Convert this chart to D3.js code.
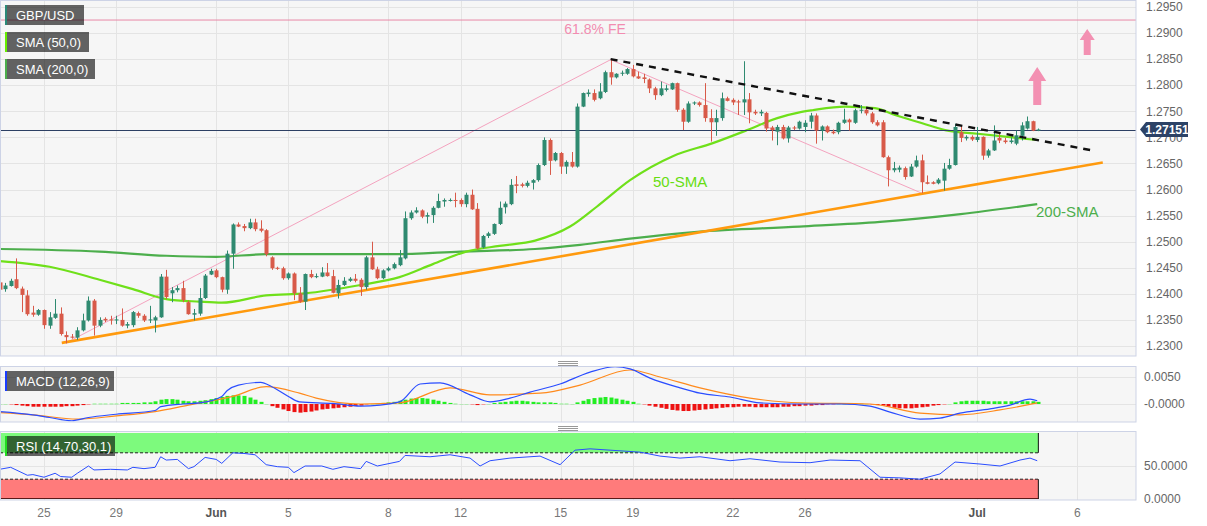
<!DOCTYPE html>
<html><head><meta charset="utf-8">
<script src="https://cdn.jsdelivr.net/npm/d3@7"></script>
<style>body{margin:0;background:#fff;font-family:"Liberation Sans",Arial,sans-serif}</style>
</head><body><svg id="c" width="1207" height="526"></svg>
<script>
// ---- DATA ----
const candles = [
[1.2422,1.2425,1.2405,1.2408],[1.2409,1.2421,1.2404,1.2416],[1.2415,1.2429,1.2414,1.2425],[1.2428,1.2468,1.2409,1.2411],
[1.2410,1.2414,1.2365,1.2398],[1.2397,1.2407,1.2358,1.2361],[1.2364,1.2377,1.2356,1.2360],[1.2360,1.2371,1.2358,1.2369],
[1.2369,1.2370,1.2333,1.2340],[1.2339,1.2365,1.2333,1.2355],[1.2354,1.2390,1.2352,1.2362],[1.2362,1.2374,1.2320,1.2323],
[1.2321,1.2328,1.2305,1.2317],[1.2318,1.2323,1.2314,1.2316],[1.2316,1.2336,1.2312,1.2330],[1.2330,1.2362,1.2328,1.2349],
[1.2349,1.2395,1.2347,1.2387],[1.2387,1.2390,1.2320,1.2339],[1.2339,1.2355,1.2336,1.2350],[1.2352,1.2355,1.2346,1.2349],
[1.2351,1.2358,1.2341,1.2349],[1.2349,1.2358,1.2342,1.2351],[1.2350,1.2372,1.2337,1.2339],[1.2339,1.2346,1.2334,1.2342],
[1.2340,1.2367,1.2336,1.2365],[1.2363,1.2366,1.2354,1.2358],[1.2358,1.2361,1.2346,1.2349],[1.2350,1.2377,1.2344,1.2351],
[1.2349,1.2358,1.2326,1.2355],[1.2355,1.2438,1.2354,1.2433],[1.2433,1.2446,1.2390,1.2394],[1.2401,1.2413,1.2384,1.2407],
[1.2407,1.2416,1.2403,1.2411],[1.2411,1.2425,1.2384,1.2388],[1.2384,1.2387,1.2360,1.2361],[1.2360,1.2371,1.2349,1.2363],
[1.2362,1.2411,1.2358,1.2392],[1.2392,1.2438,1.2390,1.2435],[1.2437,1.2448,1.2436,1.2444],[1.2445,1.2448,1.2430,1.2432],
[1.2432,1.2433,1.2403,1.2408],[1.2408,1.2483,1.2400,1.2477],[1.2477,1.2535,1.2448,1.2533],[1.2533,1.2537,1.2528,1.2529],
[1.2530,1.2534,1.2520,1.2526],[1.2526,1.2544,1.2524,1.2537],[1.2537,1.2544,1.2520,1.2524],[1.2525,1.2541,1.2518,1.2521],
[1.2522,1.2524,1.2472,1.2476],[1.2470,1.2472,1.2446,1.2449],[1.2450,1.2452,1.2446,1.2448],[1.2449,1.2452,1.2427,1.2430],
[1.2430,1.2441,1.2427,1.2439],[1.2439,1.2441,1.2388,1.2401],[1.2401,1.2413,1.2383,1.2385],[1.2385,1.2439,1.2369,1.2438],
[1.2438,1.2446,1.2430,1.2432],[1.2432,1.2439,1.2430,1.2434],[1.2433,1.2451,1.2432,1.2441],[1.2441,1.2459,1.2433,1.2434],
[1.2434,1.2446,1.2401,1.2402],[1.2401,1.2427,1.2391,1.2417],[1.2417,1.2432,1.2415,1.2425],[1.2425,1.2432,1.2423,1.2429],
[1.2429,1.2438,1.2422,1.2425],[1.2427,1.2430,1.2396,1.2413],[1.2413,1.2473,1.2408,1.2470],[1.2470,1.2500,1.2446,1.2447],
[1.2447,1.2452,1.2428,1.2430],[1.2430,1.2447,1.2428,1.2445],[1.2445,1.2452,1.2443,1.2449],[1.2449,1.2460,1.2447,1.2457],
[1.2455,1.2484,1.2453,1.2470],[1.2468,1.2558,1.2466,1.2545],[1.2545,1.2560,1.2542,1.2556],[1.2556,1.2566,1.2554,1.2560],
[1.2560,1.2562,1.2545,1.2548],[1.2548,1.2556,1.2535,1.2551],[1.2551,1.2568,1.2536,1.2565],[1.2565,1.2592,1.2564,1.2578],
[1.2577,1.2583,1.2567,1.2580],[1.2579,1.2583,1.2577,1.2580],[1.2580,1.2594,1.2566,1.2578],[1.2580,1.2583,1.2567,1.2572],
[1.2572,1.2594,1.2566,1.2590],[1.2590,1.2600,1.2561,1.2562],[1.2563,1.2574,1.2485,1.2487],[1.2489,1.2513,1.2487,1.2511],
[1.2511,1.2519,1.2507,1.2516],[1.2515,1.2535,1.2513,1.2534],[1.2534,1.2577,1.2532,1.2565],[1.2566,1.2577,1.2554,1.2573],
[1.2572,1.2620,1.2570,1.2609],[1.2610,1.2626,1.2593,1.2607],[1.2610,1.2613,1.2604,1.2607],[1.2607,1.2617,1.2604,1.2613],
[1.2613,1.2620,1.2600,1.2618],[1.2618,1.2650,1.2615,1.2647],[1.2647,1.2700,1.2645,1.2695],[1.2695,1.2698,1.2628,1.2655],
[1.2656,1.2672,1.2654,1.2670],[1.2670,1.2672,1.2630,1.2644],[1.2644,1.2656,1.2630,1.2653],[1.2653,1.2672,1.2642,1.2644],
[1.2644,1.2765,1.2642,1.2759],[1.2759,1.2786,1.2758,1.2785],[1.2783,1.2792,1.2778,1.2786],[1.2785,1.2792,1.2769,1.2772],
[1.2775,1.2804,1.2773,1.2788],[1.2787,1.2828,1.2785,1.2825],[1.2825,1.2849,1.2801,1.2815],[1.2815,1.2823,1.2813,1.2822],
[1.2822,1.2828,1.2818,1.2824],[1.2822,1.2833,1.2820,1.2831],[1.2831,1.2839,1.2815,1.2817],[1.2817,1.2826,1.2812,1.2813],
[1.2815,1.2822,1.2804,1.2812],[1.2811,1.2813,1.2785,1.2794],[1.2794,1.2797,1.2772,1.2781],[1.2781,1.2807,1.2779,1.2794],
[1.2791,1.2801,1.2788,1.2794],[1.2792,1.2805,1.2791,1.2804],[1.2804,1.2805,1.2749,1.2753],[1.2753,1.2756,1.2714,1.2730],
[1.2730,1.2769,1.2728,1.2765],[1.2765,1.2769,1.2762,1.2767],[1.2767,1.2769,1.2759,1.2762],[1.2762,1.2804,1.2730,1.2737],
[1.2737,1.2754,1.2692,1.2729],[1.2729,1.2753,1.2703,1.2737],[1.2737,1.2786,1.2732,1.2775],[1.2775,1.2778,1.2769,1.2770],
[1.2772,1.2775,1.2762,1.2767],[1.2769,1.2772,1.2743,1.2767],[1.2767,1.2846,1.2743,1.2773],[1.2773,1.2785,1.2727,1.2748],
[1.2749,1.2753,1.2743,1.2746],[1.2746,1.2753,1.2741,1.2749],[1.2747,1.2749,1.2711,1.2717],[1.2719,1.2722,1.2694,1.2714],
[1.2711,1.2724,1.2685,1.2720],[1.2720,1.2724,1.2696,1.2698],[1.2698,1.2722,1.2690,1.2719],[1.2719,1.2722,1.2714,1.2717],
[1.2717,1.2732,1.2715,1.2730],[1.2720,1.2733,1.2710,1.2728],[1.2730,1.2747,1.2717,1.2742],[1.2742,1.2746,1.2688,1.2713],
[1.2713,1.2723,1.2694,1.2721],[1.2721,1.2723,1.2708,1.2710],[1.2711,1.2715,1.2706,1.2708],[1.2710,1.2730,1.2706,1.2728],
[1.2728,1.2755,1.2726,1.2734],[1.2734,1.2736,1.2713,1.2729],[1.2728,1.2755,1.2726,1.2752],[1.2751,1.2762,1.2746,1.2753],
[1.2753,1.2758,1.2742,1.2746],[1.2746,1.2749,1.2726,1.2729],[1.2729,1.2733,1.2721,1.2723],[1.2729,1.2733,1.2661,1.2662],
[1.2662,1.2665,1.2606,1.2637],[1.2637,1.2653,1.2633,1.2641],[1.2638,1.2646,1.2633,1.2642],[1.2641,1.2644,1.2619,1.2624],
[1.2625,1.2649,1.2624,1.2644],[1.2644,1.2665,1.2642,1.2656],[1.2656,1.2667,1.2593,1.2614],[1.2614,1.2627,1.2610,1.2611],
[1.2614,1.2616,1.2610,1.2611],[1.2612,1.2622,1.2610,1.2619],[1.2617,1.2651,1.2598,1.2640],[1.2640,1.2659,1.2638,1.2647],
[1.2647,1.2726,1.2646,1.2720],[1.2710,1.2723,1.2691,1.2699],[1.2698,1.2704,1.2694,1.2701],[1.2701,1.2704,1.2693,1.2696],
[1.2695,1.2720,1.2691,1.2701],[1.2701,1.2702,1.2657,1.2665],[1.2665,1.2678,1.2661,1.2675],[1.2675,1.2723,1.2674,1.2694],
[1.2699,1.2708,1.2689,1.2694],[1.2694,1.2699,1.2688,1.2691],[1.2691,1.2700,1.2688,1.2694],[1.2688,1.2713,1.2685,1.2704],
[1.2703,1.2729,1.2694,1.2723],[1.2717,1.2740,1.2715,1.2731],[1.2731,1.2732,1.2712,1.2713],[1.2714,1.2717,1.2712,1.27151]
];
const sma50 = [[0,1.2463],[9,1.2452],[18,1.2427],[24,1.2409],[30,1.2390],[36,1.2385],[40,1.2383],[48,1.2397],[55,1.2401],[65,1.2417],[72,1.2432],[78,1.2457],[84,1.2481],[90,1.2492],[96.4,1.2502],[102.7,1.2529],[107.5,1.2567],[113.5,1.2618],[121.2,1.2664],[128.4,1.2689],[134.6,1.2714],[140,1.2737],[144,1.2748],[146.3,1.2752],[152.2,1.2759],[157.6,1.2756],[161.2,1.2743],[166.1,1.2727],[170.2,1.2714],[176.1,1.2707],[182.3,1.2700],[186.8,1.2695]];
const sma200 = [[0,1.2486],[18,1.2481],[30,1.2473],[39,1.2471],[48,1.2476],[71,1.2476],[83,1.2481],[96.4,1.2486],[104.5,1.2494],[113.5,1.2506],[125.6,1.2519],[144,1.2529],[158.5,1.2538],[173,1.2553],[186.8,1.2572]];
const supportLine = [[11.2,1.2306],[198.6,1.2652]];
const resistLine = [[110,1.2850],[196.7,1.2675]];
const fibLegs = [[12,1.2306],[110,1.2849],[166,1.2593]];
const fibLevel = 1.2925;
const lastPrice = 1.27151;
const macdLine = [[0,-14],[6,-20],[9,-25],[13,-31],[16,-25],[21,-19],[28,-12],[29,-5],[33,0],[36,2],[40,14],[41,25],[43,35],[47,40],[49,32],[52,14],[54,4],[60,1],[65,-4],[72,4],[75.7,37],[79.3,39],[84.7,17],[88.3,4],[91.9,11],[95.5,22],[100.9,37],[106.3,59],[110.8,69],[113.5,65],[117.1,48],[122.5,30],[126.1,20],[131.5,13],[136.9,2],[144.1,0],[151.3,0],[156.7,-4],[160.3,-15],[165.7,-28],[169.3,-26],[172.9,-17],[178.3,-9],[181.9,-2],[185.5,9],[186.8,6]];
const signalLine = [[0,-16],[6,-20],[14,-28],[21,-22],[28,-14],[34,-2],[42,14],[48,32],[54,20],[57,11],[65,0],[72,2],[81.1,30],[88.3,17],[97.3,20],[104.5,35],[113.5,63],[118.9,50],[126.1,30],[135.1,11],[144.1,2],[156.7,0],[165.7,-17],[172.9,-20],[180.1,-11],[186.8,2]];
const macdHist = [0,0,-1,-2,-3,-4,-5,-5,-5,-5,-5,-5,-4,-4,-3,-2,-1,1,1,1,1,1,2,2,2,2,3,3,5,8,9,9,8,6,5,5,6,7,9,11,13,15,16,16,15,12,8,4,0,-4,-7,-10,-13,-15,-16,-15,-14,-12,-10,-9,-8,-7,-6,-5,-4,-3,-1,0,1,2,3,4,6,8,10,11,11,10,8,6,4,2,1,0,0,-1,-2,-1,0,2,3,4,5,6,6,5,4,3,3,3,2,1,1,0,3,6,9,11,12,13,12,10,8,6,4,1,-1,-3,-5,-7,-9,-11,-12,-13,-13,-12,-11,-10,-9,-8,-7,-6,-6,-5,-5,-5,-6,-6,-6,-6,-6,-5,-5,-4,-4,-3,-3,-2,-2,-1,-1,0,0,1,1,1,0,-1,-2,-3,-5,-7,-8,-8,-8,-7,-6,-5,-3,-2,-1,0,3,5,6,6,6,6,5,5,5,5,5,5,5,5,5,4];
const rsiLine = [[0,45],[2,48],[5,36],[6,37],[8,33],[10,39],[11,34],[13,33],[14,39],[16,50],[17,44],[20,45],[23,44],[24,48],[26,46],[28,48],[29,64],[30,59],[32,60],[34,46],[35,49],[37,63],[39,60],[40,54],[42,70],[44,69],[46,67],[48,52],[50,49],[52,48],[53,40],[55,50],[58,50],[60,45],[62,49],[65,46],[66,57],[68,50],[72,57],[73,66],[77.5,64],[81.1,67],[84.7,62],[86.5,50],[88.3,58],[91.9,62],[97.3,65],[100.9,52],[103.6,74],[106.3,76],[109.9,74],[115.3,71],[118.9,65],[122.5,62],[126.1,64],[131.5,58],[135.1,61],[140.5,56],[145.9,55],[149.5,59],[154.9,58],[158.5,33],[162.1,32],[165.7,30],[169.3,38],[172,56],[176.5,53],[180.1,50],[183.7,59],[185.5,62],[186.8,58]];
const priceTicks = [1.2300,1.2350,1.2400,1.2450,1.2500,1.2550,1.2600,1.2650,1.2700,1.2750,1.2800,1.2850,1.2900,1.2950];
const tickIdx = [8,21,39,52,70,83,101,114,132,145,176,194];
const tickLabels = ["25","29","Jun","5","8","12","15","19","22","26","Jul","6"];

// ---- CHART ----
const svg = d3.select('#c');
const R = 1136;
const P = {main:[0,356], macd:[366,422], rsi:[431,500]};
const x = d3.scaleLinear().domain([8,194]).range([44, 44+186*5.555]);
const y = d3.scaleLinear().domain([1.2300,1.2950]).range([346,7]);
const yM = d3.scaleLinear().domain([0,0.005]).range([404,377]);
const yR = d3.scaleLinear().domain([0,100]).range([499,433]);
const GRID = '#e4e4e4', BORDER = '#cdd3e6';
const defs = svg.append('defs');
Object.entries(P).forEach(([k,[t,b]])=>{
  defs.append('clipPath').attr('id','cl-'+k).append('rect').attr('x',0).attr('y',t).attr('width',R).attr('height',b-t);
  svg.append('rect').attr('x',0.5).attr('y',t+0.5).attr('width',R-0.5).attr('height',b-t-0.5).attr('fill','#f6f6f6');
  const g = svg.append('g').attr('clip-path','url(#cl-'+k+')');
  g.selectAll('line.v').data(tickIdx).join('line').attr('x1',d=>Math.round(x(d))+0.5).attr('x2',d=>Math.round(x(d))+0.5)
    .attr('y1',t).attr('y2',b).attr('stroke',GRID);
});
const gMain = svg.append('g').attr('clip-path','url(#cl-main)');
gMain.selectAll('line.h').data(priceTicks).join('line').attr('x1',0).attr('x2',R)
  .attr('y1',d=>Math.round(y(d))+0.5).attr('y2',d=>Math.round(y(d))+0.5).attr('stroke',GRID);

gMain.append('line').attr('x1',0).attr('x2',R).attr('y1',y(fibLevel)).attr('y2',y(fibLevel)).attr('stroke','#e88aa8').attr('stroke-width',1);
gMain.append('path').datum(fibLegs).attr('d',d3.line().x(d=>x(d[0])).y(d=>y(d[1]))).attr('fill','none').attr('stroke','#f4a3bf').attr('stroke-width',1);
gMain.append('path').datum(sma200).attr('d',d3.line().curve(d3.curveMonotoneX).x(d=>x(d[0])).y(d=>y(d[1]))).attr('fill','none').attr('stroke','#4cae4c').attr('stroke-width',2.2);
gMain.append('path').datum(sma50).attr('d',d3.line().curve(d3.curveMonotoneX).x(d=>x(d[0])).y(d=>y(d[1]))).attr('fill','none').attr('stroke','#6fe01a').attr('stroke-width',2.2);
gMain.append('path').datum(supportLine).attr('d',d3.line().x(d=>x(d[0])).y(d=>y(d[1]))).attr('fill','none').attr('stroke','#ff9a0e').attr('stroke-width',2.6);
gMain.append('line').attr('x1',0).attr('x2',R).attr('y1',Math.round(y(lastPrice))+0.5).attr('y2',Math.round(y(lastPrice))+0.5).attr('stroke','#2c3f63').attr('stroke-width',1);
const UP='#2f8a70', DN='#d85a49';
const cg = gMain.append('g');
candles.forEach((c,i)=>{
  const [o,h,l,cl]=c; const col = cl>=o?UP:DN; const cx=Math.round(x(i));
  cg.append('line').attr('x1',cx+0.5).attr('x2',cx+0.5).attr('y1',y(h)).attr('y2',y(l)).attr('stroke',col).attr('stroke-width',1);
  const top=y(Math.max(o,cl)), bot=y(Math.min(o,cl));
  cg.append('rect').attr('x',cx-1.5).attr('y',top).attr('width',4).attr('height',Math.max(1,bot-top)).attr('fill',col);
});
gMain.append('path').datum(resistLine).attr('d',d3.line().x(d=>x(d[0])).y(d=>y(d[1]))).attr('fill','none').attr('stroke','#111').attr('stroke-width',2.4).attr('stroke-dasharray','7,6');

const pink='#f390b2';
gMain.append('text').attr('x',x(107.2)).attr('y',y(1.2908)).attr('dy','0.35em').attr('text-anchor','middle').attr('fill','#f28cb0').attr('font-size',14).text('61.8% FE');
gMain.append('text').attr('x',x(122.5)).attr('y',y(1.2614)).attr('dy','0.35em').attr('text-anchor','middle').attr('fill','#66dd11').attr('font-size',15).text('50-SMA');
gMain.append('text').attr('x',x(192.2)).attr('y',y(1.2557)).attr('dy','0.35em').attr('text-anchor','middle').attr('fill','#4cae4c').attr('font-size',15).text('200-SMA');
function arrow(i, tipP, baseP, hw, sw, hh){
  const cx=x(i), ty=y(tipP), by=y(baseP);
  const p=`M${cx},${ty} L${cx+hw/2},${ty+hh} L${cx+sw/2},${ty+hh} L${cx+sw/2},${by} L${cx-sw/2},${by} L${cx-sw/2},${ty+hh} L${cx-hw/2},${ty+hh} Z`;
  gMain.append('path').attr('d',p).attr('fill',pink);
}
arrow(186.8,1.2835,1.2762,18,8,14);
arrow(195.8,1.2908,1.2858,15,7,11);

// y axis labels main (the one hidden by the price tag is drawn beneath it, as in the reference)
svg.selectAll('text.yt').data(priceTicks).join('text').attr('x',1146).attr('y',d=>y(d)).attr('dy','0.35em')
  .attr('fill','#666').attr('font-size',12).text(d=>d.toFixed(4));
const py = y(lastPrice);
svg.append('path').attr('d',`M1140,${py} L1146,${py-7.5} L1188,${py-7.5} L1188,${py+7.5} L1146,${py+7.5} Z`).attr('fill','#2c4266');
svg.append('text').attr('x',1167).attr('y',py).attr('dy','0.36em').attr('text-anchor','middle').attr('fill','#fff').attr('font-size',12).attr('font-weight','bold').text(lastPrice.toFixed(5));

// ---- MACD ----
const gM = svg.append('g').attr('clip-path','url(#cl-macd)');
[0.005,0].forEach(v=>gM.append('line').attr('x1',0).attr('x2',R).attr('y1',Math.round(yM(v))+0.5).attr('y2',Math.round(yM(v))+0.5).attr('stroke',GRID));
macdHist.forEach((h,i)=>{
  const v=h/10000; const cx=Math.round(x(i));
  const y0=yM(0), y1=yM(v);
  gM.append('rect').attr('x',cx-1.5).attr('y',Math.min(y0,y1)).attr('width',4).attr('height',Math.max(1,Math.abs(y1-y0)))
    .attr('fill', h>1?'#22ee22':(h<-1?'#ee1111':(h>0?'#8ff08f':(h<0?'#f59a9a':'#b8e8b8'))));
});
gM.append('path').datum(signalLine).attr('d',d3.line().curve(d3.curveMonotoneX).x(d=>x(d[0])).y(d=>yM(d[1]/10000))).attr('fill','none').attr('stroke','#ff8a1c').attr('stroke-width',1.2);
gM.append('path').datum(macdLine).attr('d',d3.line().curve(d3.curveMonotoneX).x(d=>x(d[0])).y(d=>yM(d[1]/10000))).attr('fill','none').attr('stroke','#2a4dff').attr('stroke-width',1.2);
[[0.005,'0.0050'],[0,'-0.0000']].forEach(([v,t])=>svg.append('text').attr('x',1144).attr('y',yM(v)).attr('dy','0.35em').attr('fill','#666').attr('font-size',12).text(t));

// ---- RSI ----
const gR = svg.append('g').attr('clip-path','url(#cl-rsi)');
gR.append('line').attr('x1',0).attr('x2',R).attr('y1',Math.round(yR(50))+0.5).attr('y2',Math.round(yR(50))+0.5).attr('stroke',GRID);
const xe = x(candles.length-1);
gR.append('rect').attr('x',0).attr('y',yR(100)).attr('width',xe).attr('height',yR(70)-yR(100)).attr('fill','#7dfa7d');
gR.append('rect').attr('x',0).attr('y',yR(30)).attr('width',xe).attr('height',yR(0)-yR(30)).attr('fill','#ff7b7b');
[70,30].forEach(v=>gR.append('line').attr('x1',0).attr('x2',xe).attr('y1',yR(v)).attr('y2',yR(v)).attr('stroke','#222').attr('stroke-dasharray','3,2'));
[[100,70],[30,0]].forEach(([a,b])=>{
  gR.append('line').attr('x1',xe).attr('x2',xe).attr('y1',yR(a)).attr('y2',yR(b)).attr('stroke','#111');
  gR.append('line').attr('x1',0.5).attr('x2',0.5).attr('y1',yR(a)).attr('y2',yR(b)).attr('stroke','#111');
});
gR.append('line').attr('x1',0).attr('x2',xe).attr('y1',yR(0)-0.5).attr('y2',yR(0)-0.5).attr('stroke','#5a1a1a');
gR.append('path').datum(rsiLine).attr('d',d3.line().x(d=>x(d[0])).y(d=>yR(d[1]))).attr('fill','none').attr('stroke','#2a4dff').attr('stroke-width',1);
[[50,'50.0000'],[0,'0.0000']].forEach(([v,t])=>svg.append('text').attr('x',1144).attr('y',yR(v)).attr('dy','0.35em').attr('fill','#666').attr('font-size',12).text(t));

Object.values(P).forEach(([t,b])=>svg.append('rect').attr('x',0.5).attr('y',t+0.5).attr('width',R-0.5).attr('height',b-t-0.5).attr('fill','none').attr('stroke',BORDER));
[361,426].forEach(sy=>{[0,2,4].forEach(o=>svg.append('line').attr('x1',558).attr('x2',578).attr('y1',sy+o+0.5).attr('y2',sy+o+0.5).attr('stroke','#999'));});

svg.selectAll('text.xt').data(tickIdx).join('text').attr('x',d=>x(d)).attr('y',513).attr('dy','0.35em').attr('text-anchor','middle')
  .attr('fill',(d,i)=>/[A-Z]/.test(tickLabels[i])?'#555':'#777').attr('font-weight',(d,i)=>/[A-Z]/.test(tickLabels[i])?'bold':'normal')
  .attr('font-size',12).text((d,i)=>tickLabels[i]);

function legend(x0,y0,w,label,col){
  svg.append('rect').attr('x',x0).attr('y',y0).attr('width',w).attr('height',20).attr('fill','rgba(0,0,0,0.6)');
  svg.append('rect').attr('x',x0).attr('y',y0).attr('width',2).attr('height',20).attr('fill',col);
  svg.append('text').attr('x',x0+11).attr('y',y0+10).attr('dy','0.36em').attr('fill','#fff').attr('font-size',13).text(label);
}
legend(5,5,79,'GBP/USD','#2b8a78');
legend(5,32,84,'SMA (50,0)','#66ee00');
legend(5,59,90,'SMA (200,0)','#4cae4c');
legend(5,371,109,'MACD (12,26,9)','#1a3cff');
legend(5,436,110,'RSI (14,70,30,1)','#22dd22');
</script></body></html>
